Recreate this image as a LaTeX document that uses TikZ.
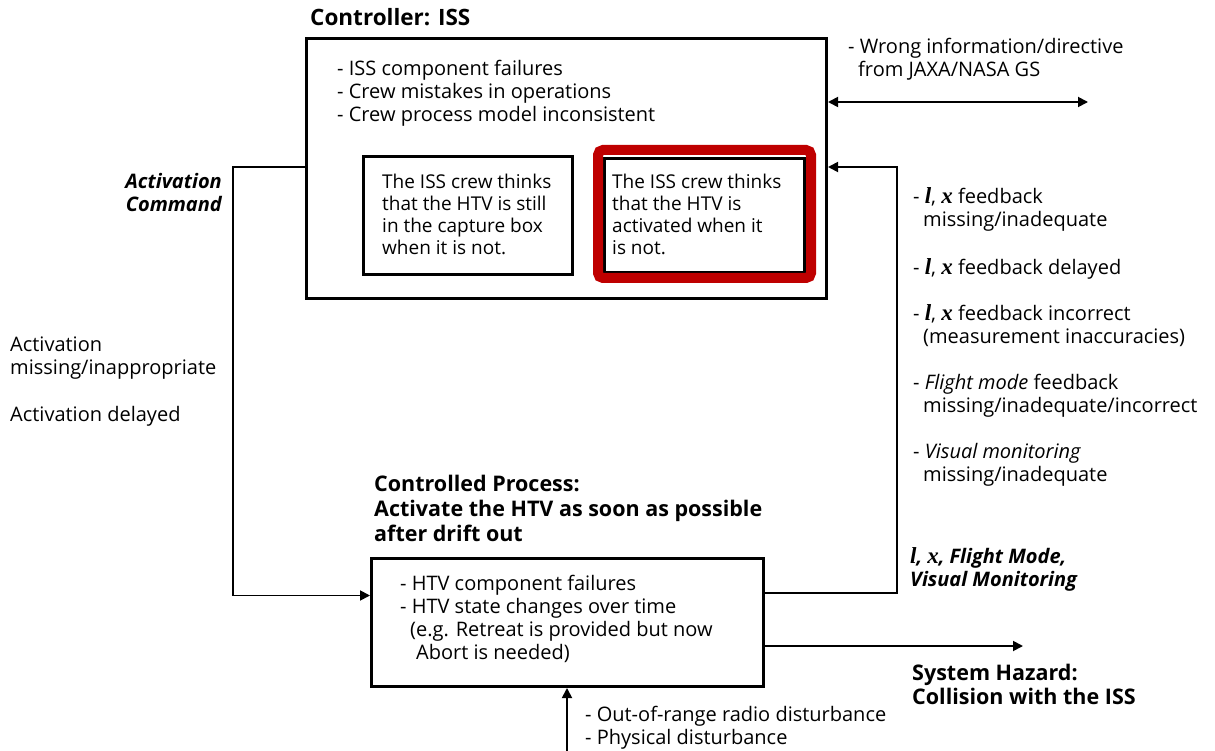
\documentclass[tikz,border=0pt]{standalone}
\usepackage{fontspec}
\setmainfont{Open Sans}
\newfontfamily\varfont[Scale=1.15]{Liberation Serif}
\usetikzlibrary{arrows.meta}

% feedback variables l and x
\newcommand{\fbvars}{{\varfont\bfseries\itshape l}, {\varfont\bfseries\itshape x}}

\begin{document}
\begin{tikzpicture}[x=1pt,y=-1pt,
  box/.style={draw, line width=3pt, inner sep=0pt, anchor=north west},
  txt/.style={anchor=north west, inner sep=0pt, align=left, font=\fontsize{20}{23}\selectfont},
  ttl/.style={txt, font=\fontsize{21.5}{25}\selectfont\bfseries},
  conn/.style={line width=1.8pt, -{Triangle[length=10pt,width=10pt]}},
  dconn/.style={line width=1.8pt, {Triangle[length=10pt,width=10pt]}-{Triangle[length=10pt,width=10pt]}}
]
\useasboundingbox (0,0) rectangle (1215,751);

% controller
\node[ttl, font=\fontsize{22.5}{25}\selectfont\bfseries] (ctrltitle) at (310,8) {Controller: ISS};
\node[box, minimum width=520pt, minimum height=260pt] (ctrl) at (305,37) {};
\node[txt] (ctrllist) at (337,60) {- ISS component failures\\- Crew mistakes in operations\\- Crew process model inconsistent};

% process-model boxes
\node[box, minimum width=209pt, minimum height=118pt] (pmA) at (362,155) {};
\node[txt, font=\fontsize{19}{22}\selectfont] (pmAtext) at (382,174) {The ISS crew thinks\\that the HTV is still\\in the capture box\\when it is not.};
\node[box, minimum width=200pt, minimum height=114pt] (pmB) at (603,157) {};
\draw[red!75!black, line width=10pt, rounded corners=5pt] (598,150) rectangle (811,278);
\node[txt, font=\fontsize{19}{22}\selectfont] (pmBtext) at (612,174) {The ISS crew thinks\\that the HTV is\\activated when it\\is not.};

% ground station link
\coordinate (gs) at (1088,102);
\draw[dconn] (ctrl.east |- gs) -- (gs);
\node[txt] (gstext) at (848,38) {- Wrong information/directive\\\hspace{10pt}from JAXA/NASA GS};

% controlled process
\node[ttl] (proctitle) at (374,475) {Controlled Process:\\Activate the HTV as soon as possible\\after drift out};
\node[box, minimum width=392pt, minimum height=128pt] (proc) at (370,557) {};
\node[txt] (proclist) at (400,575) {- HTV component failures\\- HTV state changes over time\\\hspace{10pt}(e.g. Retreat is provided but now\\\hspace{16pt}Abort is needed)};

% control action
\coordinate (actturn) at (233,167);
\draw[conn] (ctrl.west |- actturn) -- (actturn) |- ([yshift=27pt]proc.west);
\node[txt, anchor=north east, align=right, font=\fontsize{20}{23}\selectfont\bfseries\itshape] (acttext) at (222,173) {Activation\\Command};
\node[txt] (actmiss) at (10,337) {Activation\\missing/inappropriate};
\node[txt] (actdelay) at (10,406) {Activation delayed};

% feedback
\coordinate (fbtop) at (897,167);
\coordinate (fbbot) at (897,593);
\draw[conn] (proc.east |- fbbot) -- (fbbot) -- (fbtop) -- (ctrl.east |- fbtop);
\node[txt] (fbA) at (913,187) {- \fbvars{} feedback\\\hspace{10pt}missing/inadequate};
\node[txt] (fbB) at (913,258) {- \fbvars{} feedback delayed};
\node[txt] (fbC) at (913,304) {- \fbvars{} feedback incorrect\\\hspace{10pt}(measurement inaccuracies)};
\node[txt] (fbD) at (913,374) {- \textit{Flight mode} feedback\\\hspace{10pt}missing/inadequate/incorrect};
\node[txt] (fbE) at (913,443) {- \textit{Visual monitoring}\\\hspace{10pt}missing/inadequate};
\node[txt, font=\fontsize{20}{23}\selectfont\bfseries\itshape] (fbvarsall) at (910,547) {\fbvars, Flight Mode,\\Visual Monitoring};

% hazard
\coordinate (haz) at (1023,646);
\draw[conn] (proc.east |- haz) -- (haz);
\node[ttl, font=\fontsize{21.5}{24}\selectfont\bfseries] (haztext) at (912,664) {System Hazard:\\Collision with the ISS};

% disturbances
\coordinate (dist) at (567,751);
\draw[conn] (dist) -- (proc.south -| dist);
\node[txt] (disttext) at (585,706) {- Out-of-range radio disturbance\\- Physical disturbance};
\end{tikzpicture}
\end{document}
